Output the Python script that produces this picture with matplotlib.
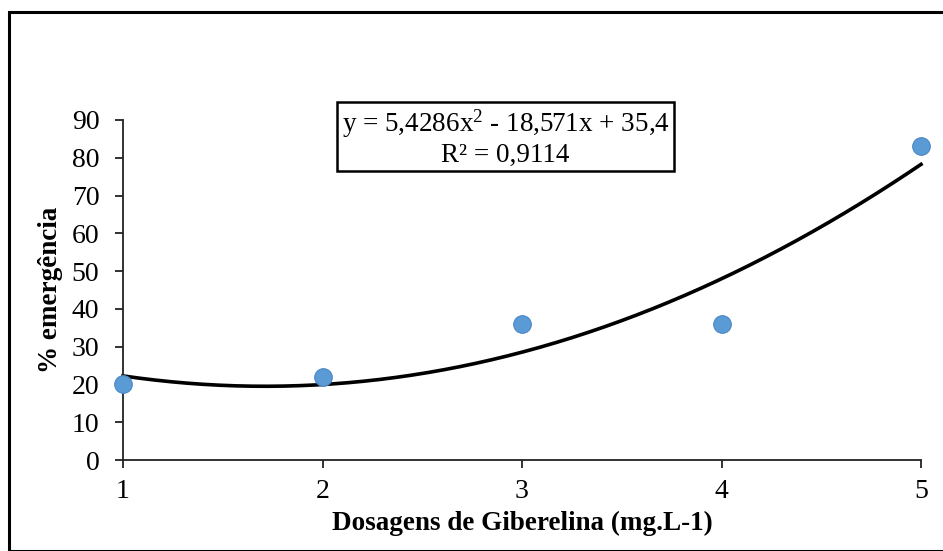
import matplotlib
matplotlib.use("Agg")
import matplotlib.pyplot as plt
import numpy as np
from matplotlib.patches import Rectangle

plt.rcParams['font.family'] = ['Liberation Serif', 'DejaVu Serif']
plt.rcParams['mathtext.fontset'] = 'custom'
plt.rcParams['mathtext.rm'] = 'Liberation Serif'
plt.rcParams['mathtext.it'] = 'Liberation Serif:italic'
plt.rcParams['mathtext.bf'] = 'Liberation Serif:bold'

doses = [1, 2, 3, 4, 5]
emergencia = [20, 22, 36, 36, 83]
yticks = [0, 10, 20, 30, 40, 50, 60, 70, 80, 90]
eq_line1 = r'y = 5,4286x$^{\mathregular{2}}$ - 18,571x + 35,4'
eq_line2 = 'R² = 0,9114'

W, H = 943, 551
fig = plt.figure(figsize=(W/100, H/100), dpi=100)
fig.patches.append(Rectangle((9/W, 0), 1.2, 1 - 12/H, transform=fig.transFigure,
                             fill=False, edgecolor='black', linewidth=2.2, zorder=10))

ax = fig.add_axes([123/W, 1 - 460/H, (921-123)/W, (460-120)/H])

coef = np.polyfit(doses, emergencia, 2)
xs = np.linspace(1, 5, 200)
ax.plot(xs, np.polyval(coef, xs), color='black', linewidth=2.6, zorder=2, clip_on=False)
ax.scatter(doses, emergencia, s=160, color='#5B9BD5', edgecolor='#4A86C5',
           linewidth=0.8, zorder=3, clip_on=False)

ax.set_xlim(1, 5)
ax.set_ylim(0, 90)
ax.set_xticks(doses)
ax.set_yticks(yticks)
for s in ['top', 'right']:
    ax.spines[s].set_visible(False)
for s in ['left', 'bottom']:
    ax.spines[s].set_linewidth(1.3)
    ax.spines[s].set_color('#222222')
ax.tick_params(axis='both', direction='out', length=6, width=1.3, color='#222222',
               labelsize=20)
ax.tick_params(axis='x', pad=8)
ax.tick_params(axis='y', pad=11)

ax.set_xlabel('Dosagens de Giberelina (mg.L-1)', fontsize=19.5, fontweight='bold')
ax.set_ylabel('% emergência', fontsize=19.5, fontweight='bold')
ax.xaxis.set_label_coords(0.5, (460 - 511) / 340)
ax.yaxis.set_label_coords((51 - 123) / 798, 0.5)
ax.yaxis.label.set_va('center')

# equation box
ax.add_patch(Rectangle(((337-123)/798, (460-171)/340), (674-337)/798, (171-102)/340,
                       transform=ax.transAxes, fill=False, edgecolor='black',
                       linewidth=1.8, clip_on=False, zorder=4))
ax.text((505.5-123)/798, (460-124)/340, eq_line1, transform=ax.transAxes,
        ha='center', va='center', fontsize=19.5)
ax.text((505.5-123)/798, (460-155)/340, eq_line2, transform=ax.transAxes,
        ha='center', va='center', fontsize=19.5)

fig.savefig('out.png', dpi=100)
